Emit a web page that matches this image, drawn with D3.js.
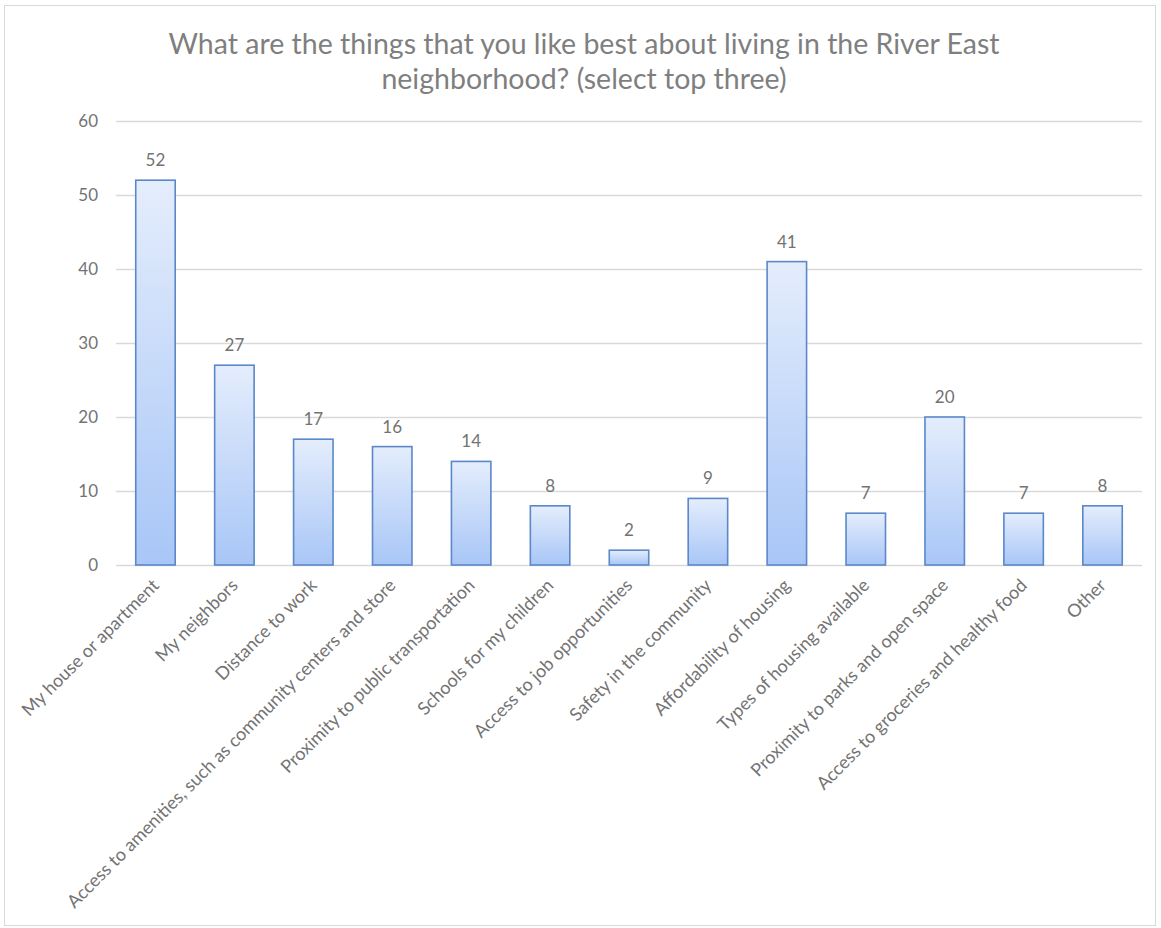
<!DOCTYPE html>
<html lang="en">
<head>
<meta charset="UTF-8">
<title>River East neighborhood</title>
<script src="https://d3js.org/d3.v7.min.js"></script>
<style>
  body { margin: 0; background: #fff; }
  text { font-family: Lato, "Open Sans", sans-serif; fill: #737373; }
  .title { font-size: 28.5px; text-anchor: middle; fill: #7f7f7f; }
  .grid line { stroke: #d9d9d9; stroke-width: 1.3; }
  .tick text { font-size: 17px; }
  .bar { stroke: #5a88c9; stroke-width: 1.6; }
  .value { font-size: 17px; text-anchor: middle; }
</style>
</head>
<body>
<div id="chart"></div>
<script>
const categories = [
  "My house or apartment", "My neighbors", "Distance to work",
  "Access to amenities, such as community centers and store",
  "Proximity to public transportation", "Schools for my children",
  "Access to job opportunities", "Safety in the community",
  "Affordability of housing", "Types of housing available",
  "Proximity to parks and open space", "Access to groceries and healthy food",
  "Other"
];
const values = [52, 27, 17, 16, 14, 8, 2, 9, 41, 7, 20, 7, 8];
const yTicks = [0, 10, 20, 30, 40, 50, 60];
const titleLines = [
  "What are the things that you like best about living in the River East",
  "neighborhood? (select top three)"
];

const width = 1161, height = 928;
const margin = { top: 121, right: 19, bottom: 363, left: 116 };

const svg = d3.select("#chart").append("svg")
  .attr("width", width).attr("height", height);

const defs = svg.append("defs");
const grad = defs.append("linearGradient")
  .attr("id", "barFill").attr("x1", 0).attr("y1", 0).attr("x2", 0).attr("y2", 1);
grad.append("stop").attr("offset", "0%").attr("stop-color", "#e4edfc");
grad.append("stop").attr("offset", "100%").attr("stop-color", "#a8c6f7");

// chart frame
svg.append("rect")
  .attr("x", 4.5).attr("y", 5.5)
  .attr("width", 1151).attr("height", 920)
  .attr("fill", "#fff").attr("stroke", "#d9d9d9");

svg.selectAll(".title").data(titleLines).join("text")
  .attr("class", "title")
  .attr("x", 584).attr("y", (d, i) => 54 + i * 35)
  .text(d => d);

const x = d3.scaleBand().domain(categories)
  .range([margin.left, width - margin.right]).paddingInner(0.5).paddingOuter(0.25);
const y = d3.scaleLinear().domain([0, 60])
  .range([height - margin.bottom, margin.top]);

// gridlines + y labels
const yAxis = svg.append("g").attr("class", "grid")
  .attr("transform", `translate(${margin.left},0)`)
  .call(d3.axisLeft(y).tickValues(yTicks).tickSize(-(width - margin.left - margin.right)).tickPadding(18));
yAxis.select(".domain").remove();

svg.selectAll(".bar").data(values).join("rect")
  .attr("class", "bar")
  .attr("x", (d, i) => x(categories[i]))
  .attr("y", d => y(d))
  .attr("width", x.bandwidth())
  .attr("height", d => y(0) - y(d))
  .attr("fill", "url(#barFill)");

svg.selectAll(".value").data(values).join("text")
  .attr("class", "value")
  .attr("x", (d, i) => x(categories[i]) + x.bandwidth() / 2)
  .attr("y", d => y(d) - 14)
  .text(d => d);

// x labels, rotated 45 degrees
const xAxis = svg.append("g")
  .attr("transform", `translate(0,${y(0)})`)
  .call(d3.axisBottom(x).tickSize(0));
xAxis.select(".domain").remove();
xAxis.selectAll("text")
  .style("font-size", "18px")
  .attr("text-anchor", "end")
  .attr("dy", "0.35em")
  .attr("transform", "translate(-2,15) rotate(-45)");
</script>
</body>
</html>
